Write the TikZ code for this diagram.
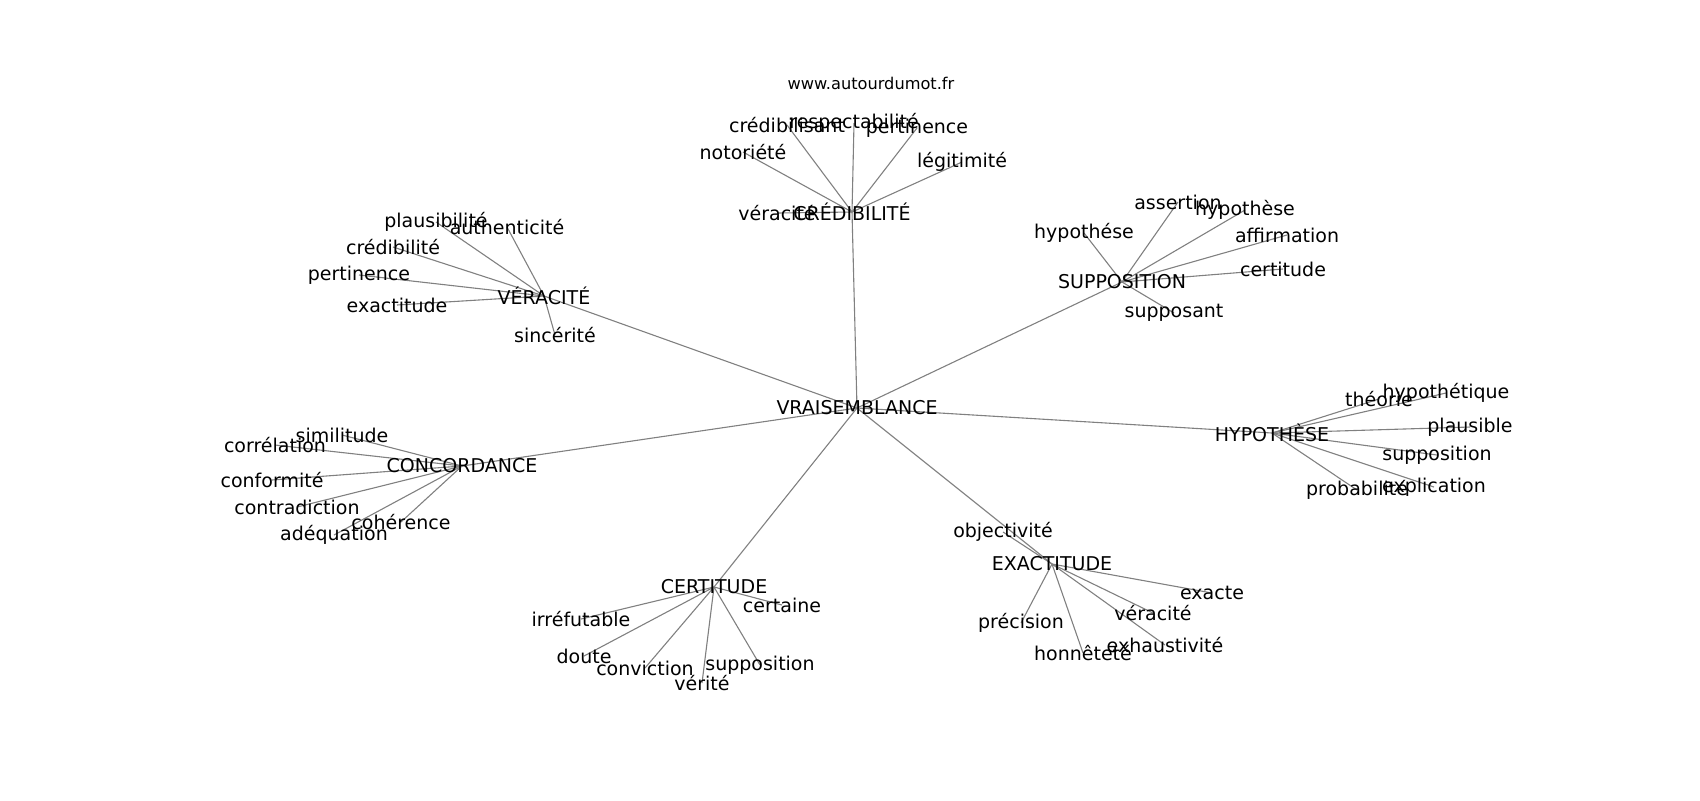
\documentclass[tikz,border=0pt]{standalone}
\usepackage{fontspec}
\setmainfont{DejaVu Sans}
\pgfdeclarelayer{bg}
\pgfsetlayers{bg,main}
\tikzset{
  lbl/.style={inner sep=0pt, font=\fontsize{9.5pt}{11pt}\selectfont, text=black},
  ttl/.style={inner sep=0pt, font=\fontsize{8.1pt}{10pt}\selectfont, text=black},
  edge/.style={draw=black!50, line width=0.55pt}
}
\begin{document}
\begin{tikzpicture}[x=0.5pt,y=-0.5pt]
\useasboundingbox (0,0) rectangle (1700,800);
\node[ttl] (title) at (871,83) {www.autourdumot.fr};
% center
\node[lbl] (V) at (857,408) {VRAISEMBLANCE};
% hubs
\node[lbl] (CRE) at (852,212) {CRÉDIBILITÉ};
\node[lbl] (VER) at (544,296) {VÉRACITÉ};
\node[lbl] (SUP) at (1122,282) {SUPPOSITION};
\node[lbl] (HYP) at (1272,433) {HYPOTHÈSE};
\node[lbl] (CON) at (462,466) {CONCORDANCE};
\node[lbl] (CER) at (714,587) {CERTITUDE};
\node[lbl] (EXA) at (1052,564) {EXACTITUDE};
% CRÉDIBILITÉ leaves
\node[lbl] (cre1) at (787,125) {crédibilisant};
\node[lbl] (cre2) at (854,123) {respectabilité};
\node[lbl] (cre3) at (917,128) {pertinence};
\node[lbl] (cre4) at (743,152) {notoriété};
\node[lbl] (cre5) at (962,162) {légitimité};
\node[lbl] (cre6) at (777,213) {véracité};
% VÉRACITÉ leaves
\node[lbl] (ver1) at (436,222) {plausibilité};
\node[lbl] (ver2) at (507,227) {authenticité};
\node[lbl] (ver3) at (393,247) {crédibilité};
\node[lbl] (ver4) at (359,275) {pertinence};
\node[lbl] (ver5) at (397,305) {exactitude};
\node[lbl] (ver6) at (555,335) {sincérité};
% SUPPOSITION leaves
\node[lbl] (sup1) at (1178,202) {assertion};
\node[lbl] (sup2) at (1245,210) {hypothèse};
\node[lbl] (sup3) at (1084,233) {hypothése};
\node[lbl] (sup4) at (1287,235) {affirmation};
\node[lbl] (sup5) at (1283,269) {certitude};
\node[lbl] (sup6) at (1174,313) {supposant};
% HYPOTHÈSE leaves
\node[lbl] (hyp1) at (1379,399) {théorie};
\node[lbl] (hyp2) at (1446,393) {hypothétique};
\node[lbl] (hyp3) at (1470,427) {plausible};
\node[lbl] (hyp4) at (1437,455) {supposition};
\node[lbl] (hyp5) at (1434,487) {explication};
\node[lbl] (hyp6) at (1357,490) {probabilité};
% CONCORDANCE leaves
\node[lbl] (con1) at (342,435) {similitude};
\node[lbl] (con2) at (275,445) {corrélation};
\node[lbl] (con3) at (272,480) {conformité};
\node[lbl] (con4) at (297,507) {contradiction};
\node[lbl] (con5) at (401,522) {cohérence};
\node[lbl] (con6) at (334,535) {adéquation};
% CERTITUDE leaves
\node[lbl] (cer1) at (782,605) {certaine};
\node[lbl] (cer2) at (581,619) {irréfutable};
\node[lbl] (cer3) at (584,656) {doute};
\node[lbl] (cer4) at (645,668) {conviction};
\node[lbl] (cer5) at (702,683) {vérité};
\node[lbl] (cer6) at (760,665) {supposition};
% EXACTITUDE leaves
\node[lbl] (exa1) at (1003,532) {objectivité};
\node[lbl] (exa2) at (1212,593) {exacte};
\node[lbl] (exa3) at (1153,613) {véracité};
\node[lbl] (exa4) at (1021,623) {précision};
\node[lbl] (exa5) at (1083,653) {honnêteté};
\node[lbl] (exa6) at (1165,645) {exhaustivité};
\begin{pgfonlayer}{bg}
\foreach \h in {CRE,VER,SUP,HYP,CON,CER,EXA}
  \draw[edge] (V.center) -- (\h.center);
\foreach \i in {1,...,6}{
  \draw[edge] (CRE.center) -- (cre\i.center);
  \draw[edge] (VER.center) -- (ver\i.center);
  \draw[edge] (SUP.center) -- (sup\i.center);
  \draw[edge] (HYP.center) -- (hyp\i.center);
  \draw[edge] (CON.center) -- (con\i.center);
  \draw[edge] (CER.center) -- (cer\i.center);
  \draw[edge] (EXA.center) -- (exa\i.center);
}
\end{pgfonlayer}
\end{tikzpicture}
\end{document}
